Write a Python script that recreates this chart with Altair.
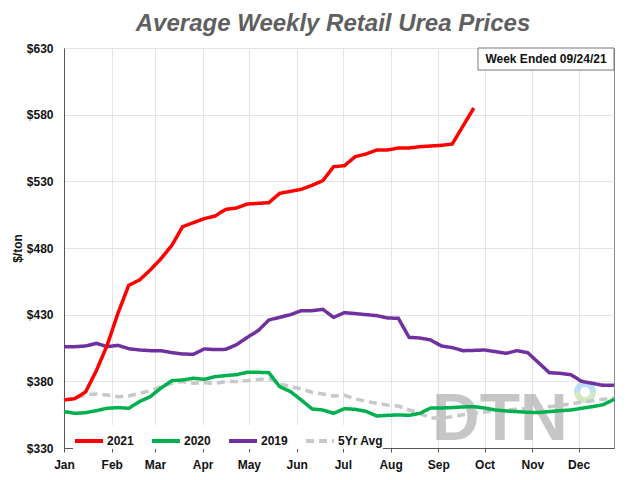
import altair as alt
import pandas as pd

# Week-ending dates (Fridays) used as the common x axis
week_dates = pd.date_range("2021-01-01", periods=52, freq="7D")

series_names = ["2021", "2020", "2019", "5Yr Avg"]
series_colors = ["#ff0000", "#00b04f", "#7030a0", "#c8c8c8"]

urea_2021 = [366, 367, 372, 388, 407, 431, 452, 456, 463.5, 472, 482, 496, 499,
             502, 504, 509, 510, 513, 513.5, 514, 521, 522.5, 524, 527, 530.5,
             541, 541.7, 548.5, 550.5, 553.5, 553.5, 555, 555, 556, 556.5, 557,
             558, 571.5, 585]

urea_2020 = [357.3, 356, 356.5, 358, 359.8, 360.3, 359.8, 364.8, 368.5, 375,
             380.5, 381, 382.3, 381.5, 383.5, 384.3, 385, 386.8, 386.8, 386.5,
             376, 372.3, 366, 359.3, 358.5, 356, 359.5, 359, 357.5, 354, 354.5,
             354.8, 354.5, 356, 360, 360, 360.3, 360.8, 361, 360, 358.5, 357.8,
             357.3, 356.8, 356.6, 357.3, 358, 358.5, 359.8, 361, 362.5, 366.5]

urea_2019 = [406, 406, 406.5, 408.5, 406, 407, 404.5, 403.5, 403, 403, 401.5,
             400.5, 400.3, 404.3, 403.8, 404, 407.5, 413, 418, 426, 428, 430,
             433, 433, 434, 428, 431.5, 430.8, 430, 429.3, 427.5, 427.3, 413,
             412.5, 411, 406.5, 405.3, 403, 403.2, 403.5, 402.3, 401, 403,
             401.5, 394, 386.5, 386, 385, 380, 378.5, 377, 377]

urea_5yr = [366, 367.5, 369.8, 370.5, 369.8, 368.5, 369, 371, 373, 376, 378.5,
            379.8, 378.5, 379, 378.5, 379.8, 379.8, 380.5, 381.3, 382.3, 378,
            376, 374.3, 371.8, 370.5, 369, 369.5, 366.8, 365, 363.5, 362.3,
            361.5, 358.5, 356, 352.5, 352.5, 353.5, 355, 356, 357, 358, 358.5,
            359, 359.5, 360, 361, 362, 363, 364.5, 365.5, 366.5, 367.5]

y_ticks = [330, 380, 430, 480, 530, 580, 630]

rows = []
for name, vals in zip(series_names, [urea_2021, urea_2020, urea_2019, urea_5yr]):
    for d, v in zip(week_dates, vals):
        rows.append({"week": d, "price": v, "series": name})
df = pd.DataFrame(rows)

FONT = "Liberation Sans"

legend = alt.Legend(
    title=None, orient="none", legendX=9, legendY=377, direction="horizontal",
    symbolType="stroke", symbolStrokeWidth=4, symbolSize=784,
    labelFontSize=12, labelFontWeight="bold", labelFont=FONT, labelColor="#111",
    columnPadding=10, labelOffset=2, fillColor="white",
)

x_enc = alt.X(
    "week:T",
    scale=alt.Scale(domain=[alt.DateTime(year=2021, month=1, date=1),
                            alt.DateTime(year=2021, month=12, date=24)]),
    axis=alt.Axis(
        title=None, format="%b",
        values=[alt.DateTime(year=2021, month=m, date=1) for m in range(1, 13)],
        labelFontSize=12, labelFontWeight="bold", labelFont=FONT, labelColor="#111",
        tickSize=4, tickColor="#555", domainColor="#555", labelPadding=7,
        gridColor="#e4e4e4", labelFlush=False,
    ),
)
y_enc = alt.Y(
    "price:Q",
    scale=alt.Scale(domain=[330, 630], nice=False, zero=False),
    axis=alt.Axis(
        title="$/ton", values=y_ticks, format="$d",
        labelFontSize=12, labelFontWeight="bold", labelFont=FONT, labelColor="#111",
        titleFontSize=12, titleFontWeight="bold", titleFont=FONT, titleColor="#111",
        tickSize=0, labelPadding=11, titlePadding=2, domainColor="#555",
        gridColor="#e4e4e4",
    ),
)
color_enc = alt.Color("series:N", scale=alt.Scale(domain=series_names, range=series_colors),
                      legend=legend)
dash_enc = alt.StrokeDash("series:N",
                          scale=alt.Scale(domain=series_names,
                                          range=[[1, 0], [1, 0], [1, 0], [8, 5]]),
                          legend=legend)

base = alt.Chart(df).mark_line(strokeWidth=3.5).encode(
    x=x_enc, y=y_enc, color=color_enc, strokeDash=dash_enc
)

layers_lines = [base.transform_filter(alt.datum.series == s)
                for s in ["5Yr Avg", "2019", "2020", "2021"]]

one = pd.DataFrame({"t": ["DTN"]})
watermark = alt.Chart(one).mark_text(
    fontSize=66, fontWeight="bold", font=FONT, color="#999999", opacity=0.55,
    align="left", baseline="alphabetic",
).encode(text="t:N", x=alt.value(368), y=alt.value(392))

arc_top = alt.Chart(one).mark_arc(
    theta=4.712, theta2=7.854, radius=11, radius2=5, color="#a9d6f5", opacity=0.8
).encode(x=alt.value(521), y=alt.value(344))
arc_bot = alt.Chart(one).mark_arc(
    theta=1.571, theta2=4.712, radius=11, radius2=5, color="#c5e5b0", opacity=0.8
).encode(x=alt.value(521), y=alt.value(344))

box = alt.Chart(one).mark_rect(fill="white", stroke="#777", strokeWidth=1).encode(
    x=alt.value(414), x2=alt.value(550), y=alt.value(0), y2=alt.value(22)
)
box_text = alt.Chart(pd.DataFrame({"t": ["Week Ended 09/24/21"]})).mark_text(
    fontSize=12, fontWeight="bold", font=FONT, color="#111",
    align="center", baseline="middle",
).encode(text="t:N", x=alt.value(482), y=alt.value(11))

chart = alt.layer(
    watermark, arc_top, arc_bot, *layers_lines, box, box_text
).properties(
    width=550, height=400,
    autosize=alt.AutoSizeParams(type="none"),
    padding={"left": 56, "top": 40, "right": 8, "bottom": 24},
    title=alt.Title(
        "Average Weekly Retail Urea Prices", fontSize=24, font=FONT,
        fontStyle="italic", fontWeight="bold", color="#5f5f5f",
        anchor="middle", offset=6, dx=-6,
    ),
).configure_view(stroke="#8a8a8a", strokeWidth=1)

chart.save("out.html", embed_options={"renderer": "svg", "actions": False})
